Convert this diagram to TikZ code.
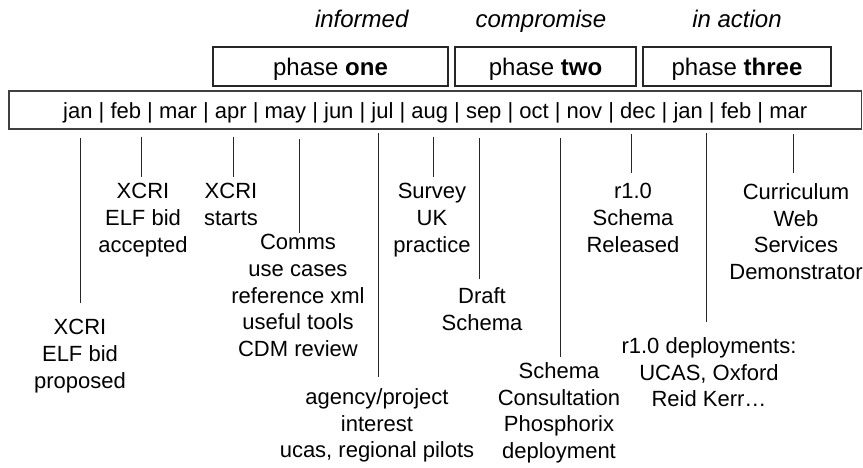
\documentclass[tikz,border=0pt]{standalone}
\usepackage{fontspec}
\setmainfont{Liberation Sans}
\begin{document}
\begin{tikzpicture}[x=1pt,y=-1pt,
  phasebox/.style={draw=black!85, line width=1.1pt, minimum height=39pt,
    inner sep=0pt, text height=19pt, text depth=1pt,
    font=\fontsize{24}{28}\selectfont},
  stage/.style={anchor=base, inner sep=0pt, font=\fontsize{24}{28}\selectfont\itshape},
  note/.style={anchor=north, align=center, inner sep=0pt,
    font=\fontsize{22}{26.6}\selectfont, execute at begin node=\strut},
  tick/.style={draw=black!85, line width=1pt}]
\useasboundingbox (0,0) rectangle (863,467);

% phase headings
\node[stage] (s1) at (361.7,27) {informed};
\node[stage] (s2) at (541,27) {compromise};
\node[stage] (s3) at (737,27) {in action};

% phase boxes
\node[phasebox, minimum width=235pt] (p1) at (330.5,66.5) {phase \textbf{one}};
\node[phasebox, minimum width=181pt] (p2) at (545.5,66.5) {phase \textbf{two}};
\node[phasebox, minimum width=188pt] (p3) at (737,66.5) {phase \textbf{three}};

% month strip
\node[draw=black!75, line width=1.3pt, minimum width=852.5pt, minimum height=38pt,
  inner sep=0pt, text height=17pt, text depth=1pt,
  font=\fontsize{22}{26.6}\selectfont] (months) at (435.25,110)
  {jan | feb | mar | apr | may | jun | jul | aug | sep | oct | nov | dec | jan | feb | mar};

% milestone notes
\node[note] (n1)  at (80,319.4)  {XCRI\\ELF bid\\proposed};
\node[note] (n2)  at (143,183.4) {XCRI\\ELF bid\\accepted};
\node[note] (n3)  at (231,183.4) {XCRI\\starts};
\node[note] (n4)  at (298,234.4) {Comms\\use cases\\reference xml\\useful tools\\CDM review};
\node[note] (n5)  at (377,388.4) {agency/project\\interest\\ucas, regional pilots};
\node[note] (n6)  at (432,183.4) {Survey\\UK\\practice};
\node[note] (n7)  at (482,287.4) {Draft\\Schema};
\node[note] (n8)  at (559,362.4) {Schema\\Consultation\\Phosphorix\\deployment};
\node[note] (n9)  at (633,183.4) {r1.0\\Schema\\Released};
\node[note] (n10) at (709,337.4) {r1.0 deployments:\\UCAS, Oxford\\Reid Kerr…};
\node[note] (n11) at (796,183.4) {Curriculum\\Web\\Services\\Demonstrator};

% tick line end points
\coordinate (t1a)  at (80,138);  \coordinate (t1b)  at (80,303);
\coordinate (t2a)  at (141,137); \coordinate (t2b)  at (141,177);
\coordinate (t3a)  at (233,137); \coordinate (t3b)  at (233,177);
\coordinate (t4a)  at (299,139); \coordinate (t4b)  at (299,233);
\coordinate (t5a)  at (378,133); \coordinate (t5b)  at (378,377);
\coordinate (t6a)  at (433,137); \coordinate (t6b)  at (433,177);
\coordinate (t7a)  at (479,138); \coordinate (t7b)  at (479,279);
\coordinate (t8a)  at (560,138); \coordinate (t8b)  at (560,357);
\coordinate (t9a)  at (631,134); \coordinate (t9b)  at (631,173);
\coordinate (t10a) at (706,133); \coordinate (t10b) at (706,322);
\coordinate (t11a) at (793,134); \coordinate (t11b) at (793,173);

\foreach \i in {1,...,11} \draw[tick] (t\i a) -- (t\i b);
\end{tikzpicture}
\end{document}
